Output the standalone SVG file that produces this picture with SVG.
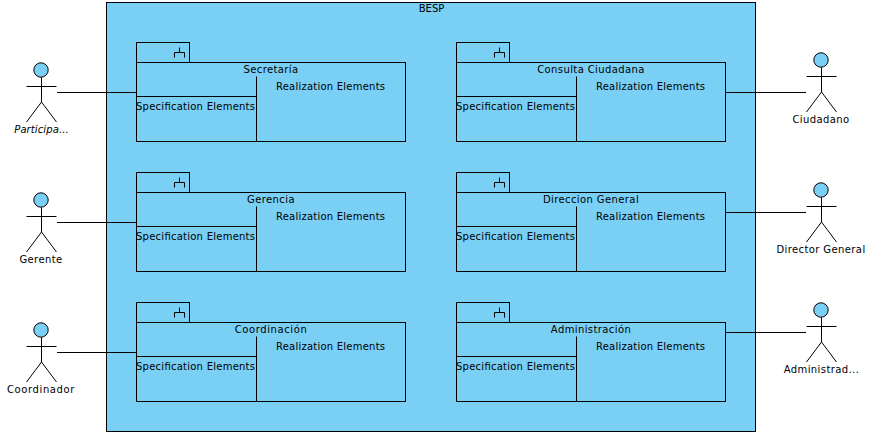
<svg xmlns="http://www.w3.org/2000/svg" xmlns:xlink="http://www.w3.org/1999/xlink" width="875" height="436" viewBox="0 0 875 436">
<style>
text{font-family:"DejaVu Sans",sans-serif;font-size:10px;fill:#000}
.m{text-anchor:middle;letter-spacing:.4px}
.i{font-style:italic;letter-spacing:.1px}
.s{fill:none;stroke:#000;stroke-width:1}
.f{fill:#7acff5;stroke:#000;stroke-width:1}
</style>
<defs>
<g id="pkg">
<rect class="f" x="0.5" y="0.5" width="53" height="20"/>
<path class="s" d="M38.5 15.5V10.5H48.5V15.5M43.5 5.5V10.5"/>
<rect class="f" x="0.5" y="20.5" width="269" height="79"/>
<path class="s" d="M0.5 54.5H120.5M120.5 34.5V99.5"/>
<text x="0" y="68" textLength="119">Specification Elements</text>
<text x="140" y="48" textLength="109">Realization Elements</text>
</g>
<g id="actor">
<circle class="f" cx="-0.5" cy="0" r="7.2"/>
<path class="s" d="M0 7.5V32M-15 16.5H15M0 32L-15 52M0 32L15 52"/>
</g>
</defs>
<rect width="875" height="436" fill="#fff"/>
<g id="system">
<rect class="f" x="106.5" y="2.5" width="649" height="429"/>
<text x="431.5" y="12" text-anchor="middle">BESP</text>
</g>
<g id="connectors">
<path class="s" d="M57 92.5H136M57 222.5H136M57 352.5H136M726 92.5H806M726 212.5H806M726 332.5H806"/>
</g>
<g id="secretaria"><use xlink:href="#pkg" x="136" y="42"/><text class="m" x="271" y="73">Secretaría</text></g>
<g id="gerencia"><use xlink:href="#pkg" x="136" y="172"/><text class="m" x="271" y="203">Gerencia</text></g>
<g id="coordinacion"><use xlink:href="#pkg" x="136" y="302"/><text class="m" x="271" y="333" style="letter-spacing:.6px">Coordinación</text></g>
<g id="consulta"><use xlink:href="#pkg" x="456" y="42"/><text class="m" x="591" y="73">Consulta Ciudadana</text></g>
<g id="direccion"><use xlink:href="#pkg" x="456" y="172"/><text class="m" x="591" y="203">Direccion General</text></g>
<g id="administracion"><use xlink:href="#pkg" x="456" y="302"/><text class="m" x="591" y="333">Administración</text></g>
<g id="participante"><use xlink:href="#actor" x="41.5" y="70"/><text class="m i" x="41.5" y="133" style="letter-spacing:.1px">Participa...</text></g>
<g id="gerente"><use xlink:href="#actor" x="41.5" y="200"/><text class="m" x="41" y="263">Gerente</text></g>
<g id="coordinador"><use xlink:href="#actor" x="41.5" y="330"/><text class="m" x="41" y="393" style="letter-spacing:.6px">Coordinador</text></g>
<g id="ciudadano"><use xlink:href="#actor" x="821.5" y="60"/><text class="m" x="821" y="123">Ciudadano</text></g>
<g id="director"><use xlink:href="#actor" x="821.5" y="190"/><text class="m" x="821" y="253">Director General</text></g>
<g id="administrador"><use xlink:href="#actor" x="821.5" y="310"/><text class="m" x="821.5" y="373">Administrad...</text></g>
</svg>
